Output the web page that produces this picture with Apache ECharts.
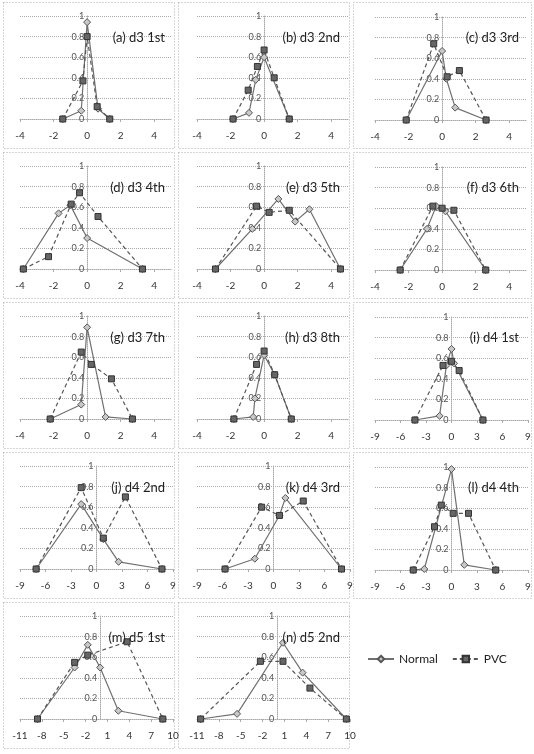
<!DOCTYPE html>
<html><head><meta charset="utf-8">
<script src="https://cdn.jsdelivr.net/npm/echarts@6/dist/echarts.min.js"></script>
<style>html,body{margin:0;padding:0;background:#fff}#c{width:534px;height:754px}</style>
</head><body><div id="c"></div>
<script>
// ---- data ----
const panelTitles = ['(a) d3 1st','(b) d3 2nd','(c) d3 3rd','(d) d3 4th','(e) d3 5th','(f) d3 6th','(g) d3 7th','(h) d3 8th','(i) d4 1st','(j) d4 2nd','(k) d4 3rd','(l) d4 4th','(m) d5 1st','(n) d5 2nd'];
const panelGroups = ['d3','d3','d3','d3','d3','d3','d3','d3','d4','d4','d4','d4','d5','d5'];
const xTicksD3 = { min: -4, max: 5, interval: 2 };
const xTicksD4 = { min: -9, max: 9, interval: 3 };
const xTicksD5 = { min: -11, max: 10, interval: 3 };
const yTicks = { min: 0, max: 1, interval: 0.2 };

const normalA = [[-1.45,0],[-0.35,0.08],[0,0.94],[0.65,0.1],[1.35,0]];
const pvcA    = [[-1.45,0],[-0.25,0.37],[0,0.8],[0.6,0.12],[1.35,0]];
const normalB = [[-1.85,0],[-0.9,0.06],[-0.5,0.38],[0,0.6],[1.5,0]];
const pvcB    = [[-1.85,0],[-0.95,0.28],[-0.4,0.51],[0,0.67],[0.6,0.4],[1.5,0]];
const normalC = [[-2.14,0],[0,0.67],[0.25,0.4],[0.78,0.12],[2.62,0]];
const pvcC    = [[-2.14,0],[-0.5,0.74],[0.3,0.42],[1.03,0.48],[2.62,0]];
const normalD = [[-3.8,0],[-1.7,0.54],[-1,0.62],[0,0.3],[3.3,0]];
const pvcD    = [[-3.8,0],[-2.3,0.12],[-0.95,0.63],[-0.45,0.74],[0.65,0.51],[3.3,0]];
const normalE = [[-2.9,0],[-0.7,0.39],[0.85,0.68],[1.85,0.46],[2.7,0.58],[4.55,0]];
const pvcE    = [[-2.9,0],[-0.45,0.61],[0.3,0.55],[1.5,0.57],[4.55,0]];
const normalF = [[-2.5,0],[-0.9,0.4],[-0.35,0.62],[0.2,0.57],[2.6,0]];
const pvcF    = [[-2.5,0],[-0.55,0.62],[0,0.6],[0.7,0.58],[2.6,0]];
const normalG = [[-2.2,0],[-0.35,0.14],[0,0.89],[1.1,0.02],[2.7,0]];
const pvcG    = [[-2.2,0],[-0.35,0.65],[0.25,0.53],[1.45,0.39],[2.7,0]];
const normalH = [[-1.8,0],[-0.65,0.02],[-0.55,0.2],[0,0.62],[0.63,0.43],[1.62,0]];
const pvcH    = [[-1.8,0],[-0.45,0.53],[0,0.66],[0.63,0.43],[1.62,0]];
const normalI = [[-4.3,0],[-1.4,0.04],[-0.6,0.53],[0,0.69],[0.3,0.55],[3.7,0]];
const pvcI    = [[-4.3,0],[-1,0.53],[0,0.57],[0.9,0.48],[3.7,0]];
const normalJ = [[-7.1,0],[-1.8,0.63],[0.8,0.29],[2.6,0.07],[7.7,0]];
const pvcJ    = [[-7.1,0],[-1.8,0.79],[0.8,0.3],[3.4,0.7],[7.7,0]];
const normalK = [[-5.7,0],[-2.2,0.1],[0.7,0.52],[1.4,0.69],[8,0]];
const pvcK    = [[-5.7,0],[-1.4,0.6],[0.7,0.52],[3.5,0.66],[8,0]];
const normalL = [[-4.5,0],[-3.2,0.01],[0,0.98],[1.5,0.05],[5.2,0]];
const pvcL    = [[-4.5,0],[-2,0.42],[-1.2,0.63],[0.2,0.55],[2,0.55],[5.2,0]];
const normalM = [[-8.6,0],[-3.5,0.5],[-1.7,0.72],[0,0.5],[2.5,0.08],[8.6,0]];
const pvcM    = [[-8.6,0],[-3.5,0.55],[-1.7,0.62],[3.7,0.75],[8.6,0]];
const normalN = [[-10.5,0],[-5.5,0.05],[0.8,0.74],[3.5,0.45],[9.5,0]];
const pvcN    = [[-10.5,0],[-2.3,0.56],[0.8,0.56],[4.5,0.3],[9.5,0]];

const normalSeries = [normalA,normalB,normalC,normalD,normalE,normalF,normalG,normalH,normalI,normalJ,normalK,normalL,normalM,normalN];
const pvcSeries = [pvcA,pvcB,pvcC,pvcD,pvcE,pvcF,pvcG,pvcH,pvcI,pvcJ,pvcK,pvcL,pvcM,pvcN];
const seriesNames = ['Normal','PVC'];

// ---- layout ----
const FONT = 'Lato, "Liberation Sans", sans-serif';
const colFrameX = [3, 178, 353];
const colFrameW = [171, 171, 178];
const colGridLeft = [20, 197, 375];
const tickMap = { d3: xTicksD3, d4: xTicksD4, d5: xTicksD5 };

const grid = [], xAxis = [], yAxis = [], series = [], title = [], graphic = [];
panelTitles.forEach((t, i) => {
  const row = Math.floor(i / 3), col = i % 3;
  const tk = tickMap[panelGroups[i]];
  const gw = panelGroups[i] === 'd3' ? 151 : 153;
  // shift the value axis (line + labels) so it sits on x = 0 of the horizontal scale
  const zeroShift = gw * (0 - tk.min) / (tk.max - tk.min);
  grid.push({ left: colGridLeft[col], top: 16 + 150 * row + (col === 2 ? 1 : 0), width: gw, height: 103 });
  xAxis.push({
    type: 'value', gridIndex: i, min: tk.min, max: tk.max, interval: tk.interval,
    axisLine: { onZero: true, lineStyle: { color: '#aaa', type: 'dotted' } },
    axisTick: { show: true, length: 3, lineStyle: { color: '#aaa' } },
    axisLabel: { fontSize: 10, color: '#333', margin: 12, fontFamily: FONT,
      showMaxLabel: (tk.max - tk.min) % tk.interval === 0 },
    splitLine: { show: false }
  });
  yAxis.push({
    type: 'value', gridIndex: i, min: yTicks.min, max: yTicks.max, interval: yTicks.interval,
    position: 'left', offset: -zeroShift,
    axisLine: { show: true, onZero: false, lineStyle: { color: '#aaa', type: 'dotted' } },
    axisTick: { show: false },
    axisLabel: { fontSize: 9, color: '#555', margin: 3, fontFamily: FONT },
    splitLine: { show: true, lineStyle: { color: '#aaa', type: 'dotted' } }
  });
  series.push({
    name: seriesNames[0], type: 'line', xAxisIndex: i, yAxisIndex: i, data: normalSeries[i],
    symbol: 'diamond', symbolSize: 7, showAllSymbol: true,
    lineStyle: { color: '#707070', width: 1.2 },
    itemStyle: { color: '#c8c8c8', borderColor: '#555', borderWidth: 1 }
  });
  series.push({
    name: seriesNames[1], type: 'line', xAxisIndex: i, yAxisIndex: i, data: pvcSeries[i],
    symbol: 'rect', symbolSize: 6, showAllSymbol: true,
    lineStyle: { color: '#555', width: 1.2, type: [4, 3] },
    itemStyle: { color: '#666', borderColor: '#333', borderWidth: 1 }
  });
  const frameRight = colFrameX[col] + colFrameW[col];
  title.push({
    text: t, right: 534 - (frameRight - (col === 2 ? 7 : 4)), top: 150 * row + 26,
    textStyle: { fontSize: 13, fontWeight: 'normal', color: '#222', fontFamily: FONT }
  });
  graphic.push({
    type: 'rect', silent: true, z: -1,
    shape: { x: colFrameX[col] + 0.5, y: 2.5 + 150 * row, width: colFrameW[col], height: 146 },
    style: { fill: 'none', stroke: '#aaa', lineWidth: 1, lineDash: [1, 2] }
  });
});

const chart = echarts.init(document.getElementById('c'));
chart.setOption({
  animation: false,
  backgroundColor: '#fff',
  title, grid, xAxis, yAxis, series, graphic,
  legend: {
    data: seriesNames, left: 362, top: 648, itemWidth: 26, itemHeight: 8, itemGap: 14,
    textStyle: { fontSize: 12, color: '#222', fontFamily: FONT }
  }
});
</script></body></html>
